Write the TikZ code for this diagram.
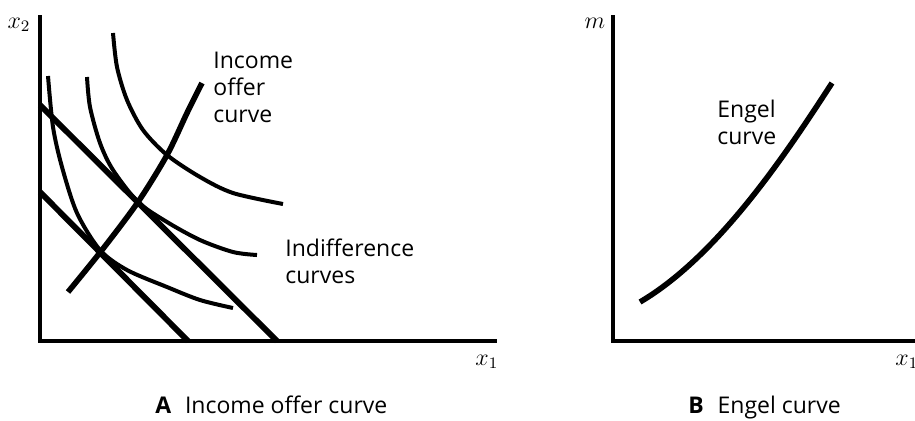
\documentclass[tikz,border=0pt]{standalone}
\usepackage{fontspec}
\setmainfont{Open Sans}
\usepackage{tikz}

\newcommand{\figfont}{\fontsize{11.5}{13.5}\selectfont}

\begin{document}
\begin{tikzpicture}[
x=0.5pt, y=-0.5pt,
axis/.style={line width=1.8pt},
budget/.style={line width=2.9pt},
indiff/.style={line width=2.0pt},
offer/.style={line width=2.8pt},
lbl/.style={font=\figfont, align=left, inner sep=0pt},
caption/.style={font=\figfont, inner sep=0pt, anchor=base west} ]

\useasboundingbox (0,0) rectangle (915,420);

% panel A
\coordinate (YA) at (40,15);
\coordinate (OA) at (40,341);
\coordinate (XA) at (497,341);
\draw[axis] (YA) -- (OA) -- (XA);
\node[font=\figfont](x2) at (19,25) {$x_2$};
\node[font=\figfont,anchor=west,inner sep=0pt](x1a) at (475,362) {$x_1$};

\coordinate (b1) at (40,105);
\coordinate (b1x) at (277,341);
\coordinate (b2) at (40,192);
\coordinate (b2x) at (188,341);
\draw[budget] (b1) -- (b1x);
\draw[budget] (b2) -- (b2x);

\draw[indiff] plot[smooth] coordinates {(48,76) (53,127) (62,167) (77,213) (100,250) (127,270) (167,287) (200,300) (233,308)};
\draw[indiff] plot[smooth] coordinates {(87,77) (90,107) (100,143) (113,170) (138,202) (167,222) (200,240) (233,252) (257,255)};
\draw[indiff] plot[smooth] coordinates {(113,33) (117,67) (127,100) (143,130) (167,155) (200,177) (233,193) (283,204)};

\draw[offer] plot[smooth] coordinates {(68,292) (102,250) (138,202) (167,155) (187,113) (202,83)};

\node[lbl,anchor=north west](income) at (213,52) {Income\\offer\\curve};
\node[lbl,anchor=north west](indiff) at (285,238) {Indifference\\curves};

\node[caption](capA) at (155,413) {\textbf{A}\hspace{0.6em}Income offer curve};

% panel B
\coordinate (YB) at (613,15);
\coordinate (OB) at (613,341);
\coordinate (XB) at (915,341);
\draw[axis] (YB) -- (OB) -- (XB);
\node[font=\figfont](m) at (595,23) {$m$};
\node[font=\figfont,anchor=west,inner sep=0pt](x1b) at (895,362) {$x_1$};

\coordinate (e0) at (640,302);
\coordinate (e1) at (832,83);
\draw[offer] (e0) .. controls (720,255) and (789,149) .. (e1);

\node[lbl,anchor=north west](engel) at (717,100) {Engel\\curve};

\node[caption](capB) at (688,413) {\textbf{B}\hspace{0.6em}Engel curve};
\end{tikzpicture}
\end{document}
